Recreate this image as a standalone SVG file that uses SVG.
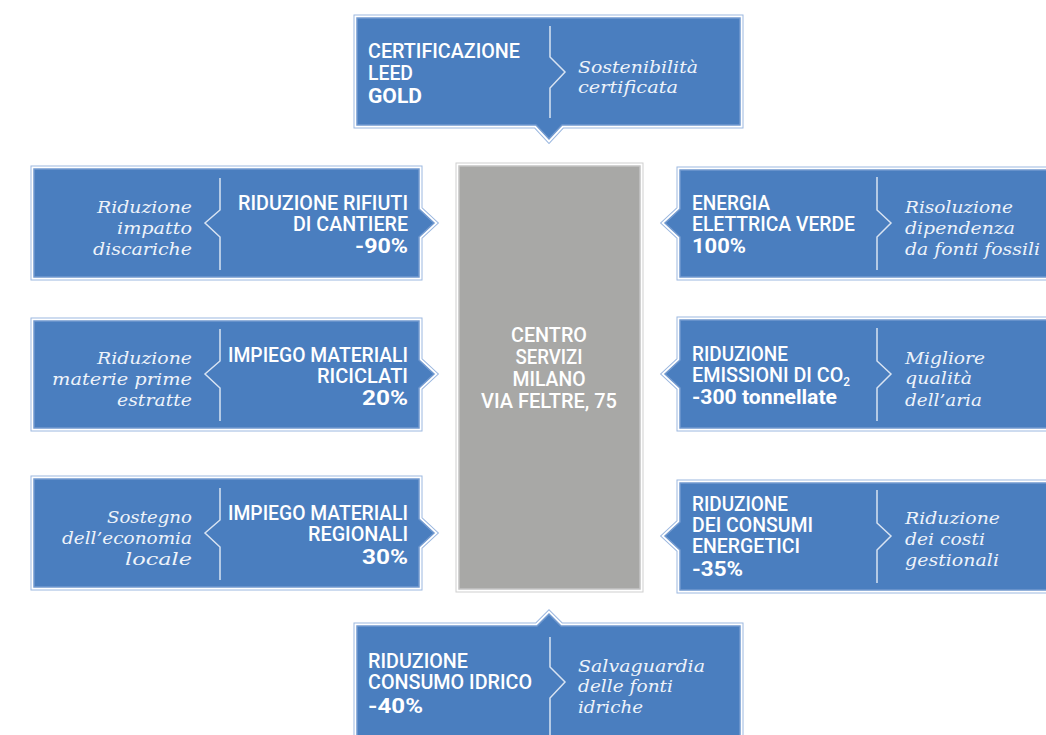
<svg xmlns="http://www.w3.org/2000/svg" xmlns:xlink="http://www.w3.org/1999/xlink" width="1046" height="735" viewBox="0 0 1046 735">
<style>
.o1{stroke:#9cb8e0;stroke-width:7;fill:none;stroke-linejoin:miter}
.o2{stroke:#ffffff;stroke-width:5;fill:none;stroke-linejoin:miter}
.bf{fill:#4a7ebf;stroke:#7199cf;stroke-width:1.5}
.g1{stroke:#cfcfcf;stroke-width:7;fill:none}
.gf{fill:#a8a8a6;stroke:#c4c4c4;stroke-width:1.5}
.dv{fill:none;stroke:#d8e3f2;stroke-width:1.5}
.c{font-family:Roboto,"Liberation Sans",sans-serif;font-weight:500;font-size:20px;fill:#ffffff}
.b{font-family:Roboto,"Liberation Sans",sans-serif;font-weight:700;font-size:20px;fill:#ffffff}
.i{font-family:"DejaVu Serif","Liberation Serif",serif;font-style:italic;font-size:17px;fill:#eef3fa}
.e{text-anchor:end}
.m{text-anchor:middle}
</style>
<defs>
<path id="sT" d="M357,18 H740 V125 H562 L549,139 L536,125 H357 Z"/>
<path id="sL1" d="M34,169 H419 V209 L434,223 L419,237 V277 H34 Z"/>
<path id="sL2" d="M34,321 H419 V360 L434,374 L419,388 V428 H34 Z"/>
<path id="sL3" d="M34,479 H419 V519 L434,533 L419,547 V587 H34 Z"/>
<path id="sR1" d="M680,170 H1052 V277 H680 V237 L665,223 L680,209 Z"/>
<path id="sR2" d="M680,320 H1052 V428 H680 V388 L665,374 L680,360 Z"/>
<path id="sR3" d="M680,483 H1052 V590 H680 V550 L665,536 L680,522 Z"/>
<path id="sB" d="M357,626 H537 L549,614 L561,626 H740 V745 H357 Z"/>
</defs>

<g id="connectors"></g>

<g id="center">
<rect x="459" y="166" width="181" height="423" class="g1"/>
<rect x="459" y="166" width="181" height="423" class="o2"/>
<rect x="459" y="166" width="181" height="423" class="gf"/>
<text class="c m" x="549" y="342" textLength="76" lengthAdjust="spacingAndGlyphs">CENTRO</text>
<text class="c m" x="549" y="364" textLength="67" lengthAdjust="spacingAndGlyphs">SERVIZI</text>
<text class="c m" x="549" y="386" textLength="73" lengthAdjust="spacingAndGlyphs">MILANO</text>
<text class="c m" x="549" y="408" textLength="136" lengthAdjust="spacingAndGlyphs">VIA FELTRE, 75</text>
</g>

<g id="node-top">
<use xlink:href="#sT" class="o1"/><use xlink:href="#sT" class="o2"/><use xlink:href="#sT" class="bf"/>
<path class="dv" d="M550,26 V57 L565,72 L550,88 V118"/>
<text class="c" x="368" y="58" textLength="152" lengthAdjust="spacingAndGlyphs">CERTIFICAZIONE</text>
<text class="c" x="368" y="80" textLength="45" lengthAdjust="spacingAndGlyphs">LEED</text>
<text class="b" x="368" y="103" textLength="54" lengthAdjust="spacingAndGlyphs">GOLD</text>
<text class="i" x="578" y="73" textLength="120" lengthAdjust="spacingAndGlyphs">Sostenibilità</text>
<text class="i" x="578" y="93" textLength="100" lengthAdjust="spacingAndGlyphs">certificata</text>
</g>

<g id="node-left-1">
<use xlink:href="#sL1" class="o1"/><use xlink:href="#sL1" class="o2"/><use xlink:href="#sL1" class="bf"/>
<path class="dv" d="M220,178 V210 L205,223 L220,237 V270"/>
<text class="c e" x="408" y="210" textLength="170" lengthAdjust="spacingAndGlyphs">RIDUZIONE RIFIUTI</text>
<text class="c e" x="408" y="231" textLength="115" lengthAdjust="spacingAndGlyphs">DI CANTIERE</text>
<text class="b e" x="408" y="253" textLength="53" lengthAdjust="spacingAndGlyphs">-90%</text>
<text class="i e" x="192" y="213" textLength="95" lengthAdjust="spacingAndGlyphs">Riduzione</text>
<text class="i e" x="192" y="234" textLength="75" lengthAdjust="spacingAndGlyphs">impatto</text>
<text class="i e" x="192" y="255" textLength="99" lengthAdjust="spacingAndGlyphs">discariche</text>
</g>

<g id="node-left-2">
<use xlink:href="#sL2" class="o1"/><use xlink:href="#sL2" class="o2"/><use xlink:href="#sL2" class="bf"/>
<path class="dv" d="M220,329 V361 L205,374 L220,388 V421"/>
<text class="c e" x="408" y="362" textLength="180" lengthAdjust="spacingAndGlyphs">IMPIEGO MATERIALI</text>
<text class="c e" x="408" y="383" textLength="91" lengthAdjust="spacingAndGlyphs">RICICLATI</text>
<text class="b e" x="408" y="405" textLength="46" lengthAdjust="spacingAndGlyphs">20%</text>
<text class="i e" x="192" y="364" textLength="95" lengthAdjust="spacingAndGlyphs">Riduzione</text>
<text class="i e" x="192" y="385" textLength="140" lengthAdjust="spacingAndGlyphs">materie prime</text>
<text class="i e" x="192" y="406" textLength="75" lengthAdjust="spacingAndGlyphs">estratte</text>
</g>

<g id="node-left-3">
<use xlink:href="#sL3" class="o1"/><use xlink:href="#sL3" class="o2"/><use xlink:href="#sL3" class="bf"/>
<path class="dv" d="M220,488 V520 L205,533 L220,547 V580"/>
<text class="c e" x="408" y="520" textLength="180" lengthAdjust="spacingAndGlyphs">IMPIEGO MATERIALI</text>
<text class="c e" x="408" y="541" textLength="100" lengthAdjust="spacingAndGlyphs">REGIONALI</text>
<text class="b e" x="408" y="564" textLength="46" lengthAdjust="spacingAndGlyphs">30%</text>
<text class="i e" x="192" y="523" textLength="85" lengthAdjust="spacingAndGlyphs">Sostegno</text>
<text class="i e" x="192" y="544" textLength="130" lengthAdjust="spacingAndGlyphs">dell’economia</text>
<text class="i e" x="192" y="565" textLength="67" lengthAdjust="spacingAndGlyphs">locale</text>
</g>

<g id="node-right-1">
<use xlink:href="#sR1" class="o1"/><use xlink:href="#sR1" class="o2"/><use xlink:href="#sR1" class="bf"/>
<path class="dv" d="M877,177 V210 L891,223 L877,237 V270"/>
<text class="c" x="692" y="210" textLength="78" lengthAdjust="spacingAndGlyphs">ENERGIA</text>
<text class="c" x="692" y="231" textLength="163" lengthAdjust="spacingAndGlyphs">ELETTRICA VERDE</text>
<text class="b" x="692" y="253" textLength="54" lengthAdjust="spacingAndGlyphs">100%</text>
<text class="i" x="905" y="213" textLength="108" lengthAdjust="spacingAndGlyphs">Risoluzione</text>
<text class="i" x="905" y="234" textLength="110" lengthAdjust="spacingAndGlyphs">dipendenza</text>
<text class="i" x="905" y="255" textLength="135" lengthAdjust="spacingAndGlyphs">da fonti fossili</text>
</g>

<g id="node-right-2">
<use xlink:href="#sR2" class="o1"/><use xlink:href="#sR2" class="o2"/><use xlink:href="#sR2" class="bf"/>
<path class="dv" d="M877,328 V361 L891,374 L877,388 V421"/>
<text class="c" x="692" y="361" textLength="96" lengthAdjust="spacingAndGlyphs">RIDUZIONE</text>
<text class="c" x="692" y="382" textLength="158" lengthAdjust="spacingAndGlyphs">EMISSIONI DI CO<tspan dy="4" style="font-size:12px">2</tspan></text>
<text class="b" x="692" y="404" textLength="145" lengthAdjust="spacingAndGlyphs">-300 tonnellate</text>
<text class="i" x="905" y="364" textLength="80" lengthAdjust="spacingAndGlyphs">Migliore</text>
<text class="i" x="905" y="384" textLength="67" lengthAdjust="spacingAndGlyphs">qualità</text>
<text class="i" x="905" y="406" textLength="77" lengthAdjust="spacingAndGlyphs">dell’aria</text>
</g>

<g id="node-right-3">
<use xlink:href="#sR3" class="o1"/><use xlink:href="#sR3" class="o2"/><use xlink:href="#sR3" class="bf"/>
<path class="dv" d="M877,490 V523 L891,536 L877,550 V583"/>
<text class="c" x="692" y="511" textLength="96" lengthAdjust="spacingAndGlyphs">RIDUZIONE</text>
<text class="c" x="692" y="532" textLength="121" lengthAdjust="spacingAndGlyphs">DEI CONSUMI</text>
<text class="c" x="692" y="553" textLength="108" lengthAdjust="spacingAndGlyphs">ENERGETICI</text>
<text class="b" x="692" y="576" textLength="51" lengthAdjust="spacingAndGlyphs">-35%</text>
<text class="i" x="905" y="524" textLength="95" lengthAdjust="spacingAndGlyphs">Riduzione</text>
<text class="i" x="905" y="545" textLength="80" lengthAdjust="spacingAndGlyphs">dei costi</text>
<text class="i" x="905" y="566" textLength="94" lengthAdjust="spacingAndGlyphs">gestionali</text>
</g>

<g id="node-bottom">
<use xlink:href="#sB" class="o1"/><use xlink:href="#sB" class="o2"/><use xlink:href="#sB" class="bf"/>
<path class="dv" d="M550,637 V667 L565,682 L550,698 V740"/>
<text class="c" x="368" y="668" textLength="100" lengthAdjust="spacingAndGlyphs">RIDUZIONE</text>
<text class="c" x="368" y="689" textLength="164" lengthAdjust="spacingAndGlyphs">CONSUMO IDRICO</text>
<text class="b" x="368" y="713" textLength="55" lengthAdjust="spacingAndGlyphs">-40%</text>
<text class="i" x="578" y="672" textLength="127" lengthAdjust="spacingAndGlyphs">Salvaguardia</text>
<text class="i" x="578" y="692" textLength="95" lengthAdjust="spacingAndGlyphs">delle fonti</text>
<text class="i" x="578" y="713" textLength="65" lengthAdjust="spacingAndGlyphs">idriche</text>
</g>
</svg>
